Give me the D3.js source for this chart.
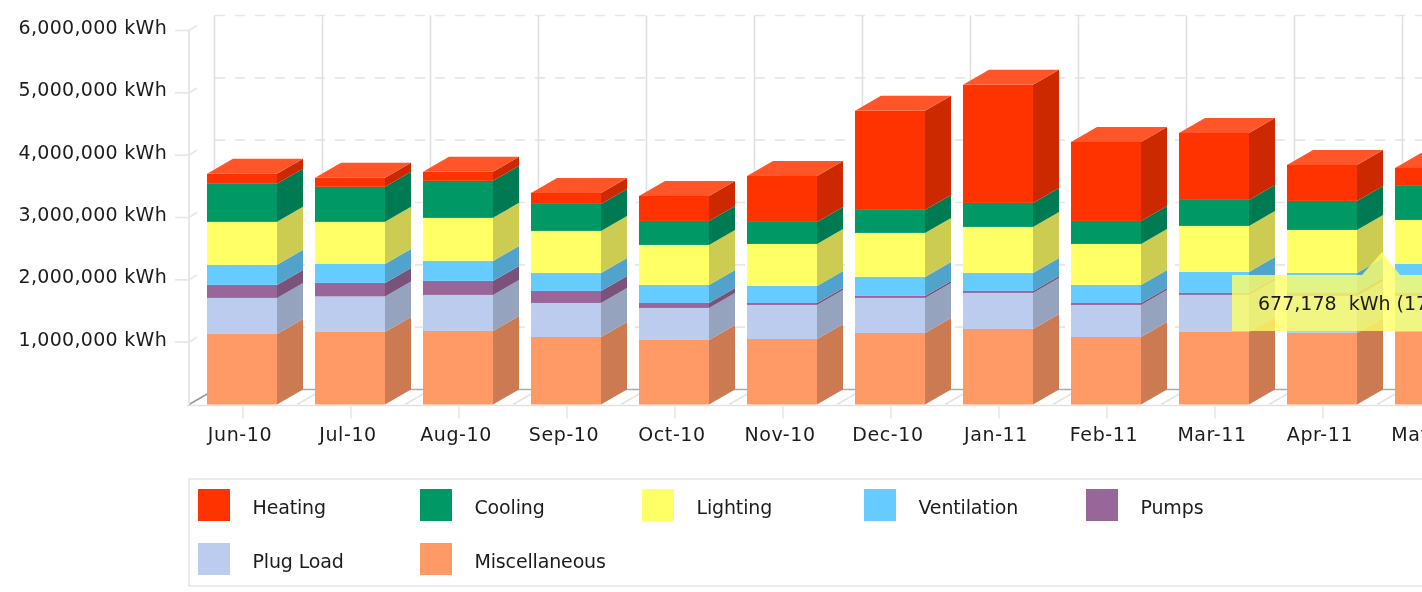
<!DOCTYPE html>
<html><head><meta charset="utf-8">
<script src="https://cdn.jsdelivr.net/npm/d3@7"></script>
<style>
html,body{margin:0;padding:0;background:#fff;overflow:hidden}
svg{display:block;filter:blur(0.55px)}
text{font-family:"DejaVu Sans",sans-serif;fill:#1c1c1c;white-space:pre}
</style></head><body>
<svg id="c" width="1422" height="592"></svg>
<script>
const months=["Jun-10","Jul-10","Aug-10","Sep-10","Oct-10","Nov-10","Dec-10","Jan-11","Feb-11","Mar-11","Apr-11","May-11"];
const seriesNames=["Miscellaneous","Plug Load","Pumps","Ventilation","Lighting","Cooling","Heating"];
const miscellaneous=[1132000,1164000,1180000,1083000,1035000,1051000,1148000,1212000,1083000,1164000,1148000,1164000];
const plugLoad=[578000,570000,578000,546000,514000,546000,562000,578000,514000,594000,594000,578000];
const pumps=[209000,217000,225000,193000,80000,32000,32000,32000,32000,32000,48000,48000];
const ventilation=[321000,305000,321000,289000,289000,273000,305000,289000,289000,337000,321000,465000];
const lighting=[690000,674000,690000,674000,642000,674000,706000,738000,658000,738000,690000,706000];
const cooling=[610000,562000,594000,433000,385000,353000,369000,385000,369000,417000,465000,546000];
const heating=[160000,144000,144000,177000,401000,738000,1589000,1894000,1268000,1075000,578000,289000];
const seriesValues=[miscellaneous,plugLoad,pumps,ventilation,lighting,cooling,heating];
const frontColors=["#ff9966","#bbccee","#996699","#66ccff","#ffff66","#009966","#ff3300"];
const sideColors=["#cc7a52","#95a3be","#7a527a","#52a3cc","#cccc52","#007a52","#cc2900"];
const legendOrder=["Heating","Cooling","Lighting","Ventilation","Pumps","Plug Load","Miscellaneous"];
const yTicks=[1000000,2000000,3000000,4000000,5000000,6000000];
const tooltipText="677,178  kWh (17.8%)";

const svg=d3.select("#c");
const dx=26,dy=-15;
const x=d3.scaleBand().domain(months).range([189,1483]).paddingInner(38/108).paddingOuter(18/108);
const y=d3.scaleLinear().domain([0,6000000]).range([404.5,30.5]);
const bw=x.bandwidth();
const color=d3.scaleOrdinal().domain(seriesNames).range(frontColors);
const side=d3.scaleOrdinal().domain(seriesNames).range(sideColors);

// back wall
const grid=svg.append("g");
grid.selectAll("line.h").data(yTicks).join("line").attr("class","h")
 .attr("x1",189+dx).attr("x2",1422).attr("y1",d=>y(d)+dy).attr("y2",d=>y(d)+dy)
 .attr("stroke","#e6e6e6").attr("stroke-width",1.6).attr("stroke-dasharray","10 10");
grid.selectAll("line.v").data(months).join("line").attr("class","v")
 .attr("x1",d=>x(d)+7.5).attr("x2",d=>x(d)+7.5)
 .attr("y1",y(6000000)+dy).attr("y2",y(0)+dy)
 .attr("stroke","#e0e0e0").attr("stroke-width",1.6);
// floor
svg.append("line").attr("x1",189+dx).attr("x2",1422).attr("y1",y(0)+dy).attr("y2",y(0)+dy).attr("stroke","#aaa").attr("stroke-width",1.6);
svg.append("line").attr("x1",187).attr("x2",1422).attr("y1",y(0)+1).attr("y2",y(0)+1).attr("stroke","#e2e2e2").attr("stroke-width",1.6);
svg.selectAll("line.hatch2").data(months).join("line").attr("class","hatch2")
 .attr("x1",d=>x(d)-18).attr("x2",d=>x(d)-18+dx).attr("y1",y(0)).attr("y2",y(0)+dy)
 .attr("stroke",(d,i)=>i==0?"#999":"#e4e4e4").attr("stroke-width",1.6);

// y axis
const yAxis=d3.axisLeft(y).tickValues(yTicks).tickSize(0).tickPadding(22)
 .tickFormat(d=>d3.format(",")(d)+" kWh");
const ya=svg.append("g").attr("transform","translate(189,0)").call(yAxis);
ya.select(".domain").remove();
ya.selectAll("text").attr("font-size",19).attr("dy","3").style("font-family",'"DejaVu Sans"').style("letter-spacing","0.3px").attr("fill","#1c1c1c");
svg.append("line").attr("x1",189).attr("x2",189).attr("y1",y(6000000)).attr("y2",y(0)).attr("stroke","#e6e6e6").attr("stroke-width",2);
svg.selectAll("path.yt").data(yTicks).join("path").attr("class","yt")
 .attr("d",d=>`M175,${y(d)}H189L197,${y(d)-5}`).attr("fill","none").attr("stroke","#e6e6e6").attr("stroke-width",1.6);

// bars
const stack=months.map((m,i)=>{let c=0;return seriesNames.map((s,k)=>{const a=c;c+=seriesValues[k][i];return {m,s,a,b:c};});});
const bars=svg.append("g").selectAll("g").data(stack).join("g");
bars.selectAll("path.side").data(d=>d).join("path").attr("class","side")
 .attr("d",d=>{const X=x(d.m)+bw,t=y(d.b),b=y(d.a);return `M${X},${t}L${X+dx},${t+dy}L${X+dx},${b+dy}L${X},${b}Z`;})
 .attr("fill",d=>side(d.s));
bars.selectAll("rect").data(d=>d).join("rect")
 .attr("x",d=>x(d.m)).attr("width",bw).attr("y",d=>y(d.b)).attr("height",d=>y(d.a)-y(d.b))
 .attr("fill",d=>color(d.s));
bars.append("path")
 .attr("d",d=>{const e=d[d.length-1],X=x(e.m),t=y(e.b);return `M${X},${t}L${X+dx},${t+dy}H${X+bw+dx}L${X+bw},${t}Z`;})
 .attr("fill","#ff5529");

// x axis
const xa=svg.append("g").attr("transform",`translate(0,${y(0)+2})`).call(d3.axisBottom(x).tickSize(12).tickPadding(9));
xa.select(".domain").remove();
xa.selectAll("line").attr("stroke","#e6e6e6").attr("stroke-width",1.6).attr("transform","translate(1,0)");
xa.selectAll("text").attr("font-size",19).attr("dx",-2).style("font-family",'"DejaVu Sans"').style("letter-spacing","0.6px").attr("fill","#1c1c1c");

// legend
const lg=svg.append("g");
lg.append("rect").attr("x",189).attr("y",479).attr("width",1300).attr("height",107).attr("fill","#fff").attr("stroke","#e6e6e6").attr("stroke-width",1.6);
const items=lg.selectAll("g").data(legendOrder).join("g")
 .attr("transform",(d,i)=>`translate(${198+222*(i%5)},${489+54*Math.floor(i/5)})`);
items.append("rect").attr("width",32).attr("height",32).attr("fill",d=>color(d));
items.append("text").attr("x",54.5).attr("y",25).attr("font-size",19).style("letter-spacing","-0.15px").text(d=>d);

// tooltip
const tip=svg.append("g");
const tm=months[10], tx=x(tm)+bw+dx-1;
tip.append("path").attr("d",`M1232,275H${tx-20}L${tx},252L${tx+18},275H1440V331H1232Z`).attr("fill","#ffff66").attr("fill-opacity",0.8);
tip.append("text").attr("x",1258).attr("y",310).attr("font-size",19).text(tooltipText);
</script></body></html>
